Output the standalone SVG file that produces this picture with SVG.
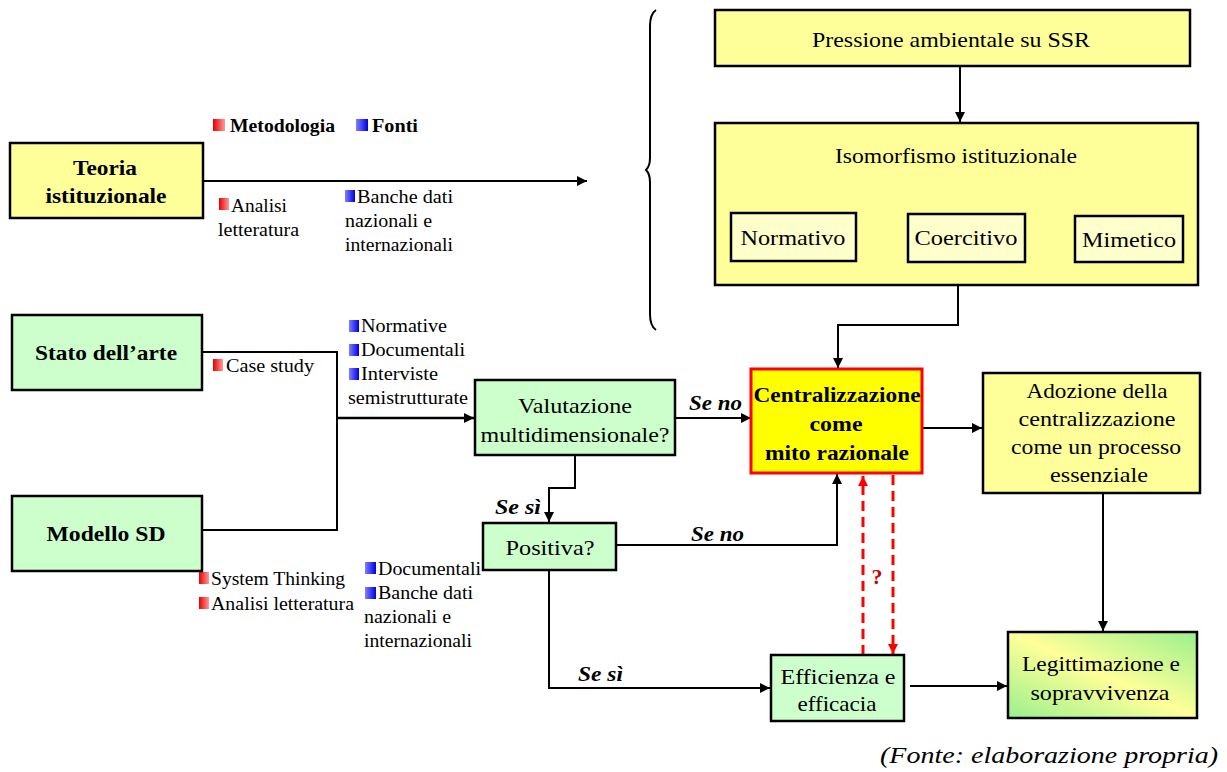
<svg xmlns="http://www.w3.org/2000/svg" width="1227" height="772" viewBox="0 0 1227 772" font-family="'Liberation Serif', Tinos, 'Times New Roman', 'DejaVu Serif', serif">
  <defs>
    <linearGradient id="gRed" x1="0" y1="0" x2="1" y2="0">
      <stop offset="0" stop-color="#E60000"/>
      <stop offset="1" stop-color="#FF9999"/>
    </linearGradient>
    <linearGradient id="gBlue" x1="0" y1="0" x2="1" y2="0">
      <stop offset="0" stop-color="#8080FF"/>
      <stop offset="1" stop-color="#0000E0"/>
    </linearGradient>
    <linearGradient id="gLegit" x1="1" y1="0" x2="0" y2="1">
      <stop offset="0" stop-color="#99F08C"/>
      <stop offset="0.5" stop-color="#FFFF99"/>
      <stop offset="1" stop-color="#99F08C"/>
    </linearGradient>
    <marker id="ah" viewBox="0 0 10 10" refX="10" refY="5" markerWidth="10" markerHeight="10" markerUnits="userSpaceOnUse" orient="auto">
      <path d="M0,0 L10,5 L0,10 z" fill="#000"/>
    </marker>
    <marker id="ahRed" viewBox="0 0 10 10" refX="10" refY="5" markerWidth="10" markerHeight="10" markerUnits="userSpaceOnUse" orient="auto">
      <path d="M0,0 L10,5 L0,10 z" fill="#FF0000"/>
    </marker>
  </defs>
  <style>
    text { font-family: "Liberation Serif", Tinos, "Times New Roman", "DejaVu Serif", serif; fill: #000; }
    .box { stroke: #000; stroke-width: 2.5; }
    .yel { fill: #FFFF99; }
    .yel2 { fill: #FFFFCC; }
    .grn { fill: #CCFFCC; }
    .t20 { font-size: 22px; text-anchor: middle; }
    .b20 { font-size: 22px; font-weight: bold; text-anchor: middle; }
    .note { font-size: 18px; }
    .lbl { font-size: 21px; font-weight: bold; font-style: italic; }
    .wire { fill: none; stroke: #000; stroke-width: 2; }
    .dash { fill: none; stroke: #FF0000; stroke-width: 3; stroke-dasharray: 10 6; }
  </style>

  <rect width="1227" height="772" fill="#FFFFFF"/>

  <!-- connectors -->
  <g id="connectors">
    <path class="wire" d="M203,181 H587" marker-end="url(#ah)"/>
    <path class="wire" d="M960,66 V122" marker-end="url(#ah)"/>
    <path class="wire" d="M958,285 V325 H838 V368" marker-end="url(#ah)"/>
    <path class="wire" d="M202,352 H337 V530 H202"/>
    <path class="wire" d="M337,418 H474" marker-end="url(#ah)" style="stroke-width:2.5"/>
    <path class="wire" d="M675,418 H751" marker-end="url(#ah)"/>
    <path class="wire" d="M575,455 V488 H549 V522" marker-end="url(#ah)"/>
    <path class="wire" d="M616,545 H837 V474" marker-end="url(#ah)"/>
    <path class="wire" d="M549,570 V688 H770" marker-end="url(#ah)"/>
    <path class="wire" d="M922,428 H982" marker-end="url(#ah)"/>
    <path class="wire" d="M1103,493 V631" marker-end="url(#ah)"/>
    <path class="wire" d="M910,686 H1007" marker-end="url(#ah)"/>
    <path class="dash" d="M863,655 V476" marker-end="url(#ahRed)"/>
    <path class="dash" d="M893,475 V654" marker-end="url(#ahRed)"/>
    <!-- curly brace grouping the institutional framework -->
    <path d="M656,10 Q650,14 650,26 V158 Q650,166 646,170 Q650,174 650,182 V314 Q650,326 656,330" fill="none" stroke="#000" stroke-width="2"/>
  </g>

  <!-- edge labels -->
  <g id="edge-labels">
    <text class="lbl" x="689" y="410" textLength="53" lengthAdjust="spacingAndGlyphs">Se no</text>
    <text class="lbl" x="495" y="514" textLength="46" lengthAdjust="spacingAndGlyphs">Se sì</text>
    <text class="lbl" x="691" y="541" textLength="53" lengthAdjust="spacingAndGlyphs">Se no</text>
    <text class="lbl" x="578" y="681" textLength="45" lengthAdjust="spacingAndGlyphs">Se sì</text>
    <text x="877" y="584" style="font-size:22px;font-weight:bold;fill:#CC0000" text-anchor="middle">?</text>
  </g>

  <!-- legend and method / source notes -->
  <g id="notes">
    <rect x="213" y="119" width="12" height="12" fill="url(#gRed)"/>
    <text x="230" y="132" style="font-size:18px;font-weight:bold" textLength="105" lengthAdjust="spacingAndGlyphs">Metodologia</text>
    <rect x="356" y="119" width="12" height="12" fill="url(#gBlue)"/>
    <text x="372" y="132" style="font-size:18px;font-weight:bold" textLength="46" lengthAdjust="spacingAndGlyphs">Fonti</text>

    <rect x="219" y="198" width="10" height="12" fill="url(#gRed)"/>
    <text class="note" x="231" y="212" textLength="56" lengthAdjust="spacingAndGlyphs">Analisi</text>
    <text class="note" x="218" y="236" textLength="81" lengthAdjust="spacingAndGlyphs">letteratura</text>
    <rect x="345" y="190" width="10" height="12" fill="url(#gBlue)"/>
    <text class="note" x="357" y="203" textLength="96" lengthAdjust="spacingAndGlyphs">Banche dati</text>
    <text class="note" x="345" y="227" textLength="87" lengthAdjust="spacingAndGlyphs">nazionali e</text>
    <text class="note" x="345" y="251" textLength="108" lengthAdjust="spacingAndGlyphs">internazionali</text>

    <rect x="213" y="359" width="10" height="12" fill="url(#gRed)"/>
    <text class="note" x="226" y="372" textLength="88" lengthAdjust="spacingAndGlyphs">Case study</text>
    <rect x="349" y="320" width="10" height="12" fill="url(#gBlue)"/>
    <text class="note" x="361" y="332" textLength="86" lengthAdjust="spacingAndGlyphs">Normative</text>
    <rect x="349" y="344" width="10" height="12" fill="url(#gBlue)"/>
    <text class="note" x="361" y="356" textLength="104" lengthAdjust="spacingAndGlyphs">Documentali</text>
    <rect x="349" y="368" width="10" height="12" fill="url(#gBlue)"/>
    <text class="note" x="361" y="380" textLength="77" lengthAdjust="spacingAndGlyphs">Interviste</text>
    <text class="note" x="348" y="404" textLength="120" lengthAdjust="spacingAndGlyphs">semistrutturate</text>

    <rect x="199" y="572" width="10" height="12" fill="url(#gRed)"/>
    <text class="note" x="211" y="585" textLength="134" lengthAdjust="spacingAndGlyphs">System Thinking</text>
    <rect x="199" y="597" width="10" height="12" fill="url(#gRed)"/>
    <text class="note" x="211" y="610" textLength="143" lengthAdjust="spacingAndGlyphs">Analisi letteratura</text>
    <rect x="365" y="562" width="11" height="12" fill="url(#gBlue)"/>
    <text class="note" x="378" y="575" textLength="103" lengthAdjust="spacingAndGlyphs">Documentali</text>
    <rect x="365" y="587" width="11" height="12" fill="url(#gBlue)"/>
    <text class="note" x="378" y="599" textLength="95" lengthAdjust="spacingAndGlyphs">Banche dati</text>
    <text class="note" x="364" y="623" textLength="87" lengthAdjust="spacingAndGlyphs">nazionali e</text>
    <text class="note" x="364" y="647" textLength="108" lengthAdjust="spacingAndGlyphs">internazionali</text>
  </g>

  <g id="teoria">
    <rect class="box yel" x="10" y="143" width="193" height="75"/>
    <text class="b20" x="105" y="175" textLength="64" lengthAdjust="spacingAndGlyphs">Teoria</text>
    <text class="b20" x="106" y="203" textLength="121" lengthAdjust="spacingAndGlyphs">istituzionale</text>
  </g>

  <g id="stato-arte">
    <rect class="box grn" x="12" y="315" width="190" height="75"/>
    <text class="b20" x="106" y="360" textLength="142" lengthAdjust="spacingAndGlyphs">Stato dell’arte</text>
  </g>

  <g id="modello-sd">
    <rect class="box grn" x="12" y="496" width="190" height="75"/>
    <text class="b20" x="106" y="541" textLength="119" lengthAdjust="spacingAndGlyphs">Modello SD</text>
  </g>

  <g id="pressione">
    <rect class="box yel" x="715" y="10" width="475" height="56"/>
    <text class="t20" x="951" y="47" textLength="278" lengthAdjust="spacingAndGlyphs">Pressione ambientale su SSR</text>
  </g>

  <g id="isomorfismo">
    <rect class="box yel" x="715" y="123" width="483" height="162"/>
    <text class="t20" x="956" y="163" textLength="242" lengthAdjust="spacingAndGlyphs">Isomorfismo istituzionale</text>
  </g>

  <g id="normativo">
    <rect class="box yel2" x="731" y="213" width="125" height="48"/>
    <text class="t20" x="793" y="245" textLength="105" lengthAdjust="spacingAndGlyphs">Normativo</text>
  </g>

  <g id="coercitivo">
    <rect class="box yel2" x="908" y="214" width="117" height="48"/>
    <text class="t20" x="966" y="245" textLength="103" lengthAdjust="spacingAndGlyphs">Coercitivo</text>
  </g>

  <g id="mimetico">
    <rect class="box yel2" x="1075" y="216" width="108" height="46"/>
    <text class="t20" x="1129" y="247" textLength="94" lengthAdjust="spacingAndGlyphs">Mimetico</text>
  </g>

  <g id="valutazione">
    <rect class="box grn" x="475" y="380" width="200" height="75"/>
    <text class="t20" x="575" y="413" textLength="114" lengthAdjust="spacingAndGlyphs">Valutazione</text>
    <text class="t20" x="575" y="442" textLength="189" lengthAdjust="spacingAndGlyphs">multidimensionale?</text>
  </g>

  <g id="centralizzazione">
    <rect x="751" y="369" width="171" height="104" fill="#FFFF00" stroke="#FF0000" stroke-width="3"/>
    <text class="b20" x="837" y="402" textLength="167" lengthAdjust="spacingAndGlyphs">Centralizzazione</text>
    <text class="b20" x="836" y="431" textLength="53" lengthAdjust="spacingAndGlyphs">come</text>
    <text class="b20" x="837" y="460" textLength="144" lengthAdjust="spacingAndGlyphs">mito razionale</text>
  </g>

  <g id="positiva">
    <rect class="box grn" x="483" y="523" width="133" height="47"/>
    <text class="t20" x="550" y="555" textLength="89" lengthAdjust="spacingAndGlyphs">Positiva?</text>
  </g>

  <g id="efficienza">
    <rect class="box grn" x="771" y="655" width="133" height="66"/>
    <text class="t20" x="838" y="684" textLength="115" lengthAdjust="spacingAndGlyphs">Efficienza e</text>
    <text class="t20" x="837" y="711" textLength="79" lengthAdjust="spacingAndGlyphs">efficacia</text>
  </g>

  <g id="adozione">
    <rect class="box yel" x="983" y="373" width="217" height="120"/>
    <text class="t20" x="1097" y="398" textLength="141" lengthAdjust="spacingAndGlyphs">Adozione della</text>
    <text class="t20" x="1097" y="426" textLength="157" lengthAdjust="spacingAndGlyphs">centralizzazione</text>
    <text class="t20" x="1096" y="454" textLength="170" lengthAdjust="spacingAndGlyphs">come un processo</text>
    <text class="t20" x="1099" y="482" textLength="98" lengthAdjust="spacingAndGlyphs">essenziale</text>
  </g>

  <g id="legittimazione">
    <rect class="box" x="1008" y="632" width="189" height="86" fill="url(#gLegit)"/>
    <text class="t20" x="1101" y="671" textLength="158" lengthAdjust="spacingAndGlyphs">Legittimazione e</text>
    <text class="t20" x="1100" y="700" textLength="139" lengthAdjust="spacingAndGlyphs">sopravvivenza</text>
  </g>

  <text x="1218" y="763" text-anchor="end" style="font-size:24px;font-style:italic" textLength="338" lengthAdjust="spacingAndGlyphs">(Fonte: elaborazione propria)</text>
</svg>
